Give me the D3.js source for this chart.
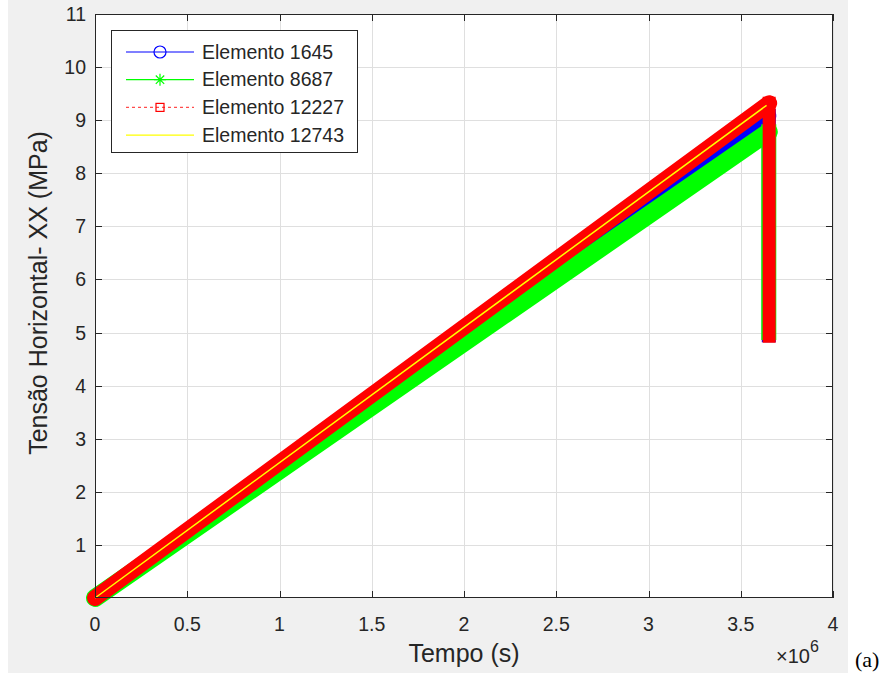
<!DOCTYPE html>
<html>
<head>
<meta charset="utf-8">
<script src="https://cdn.jsdelivr.net/npm/d3@7"></script>
<style>
  html, body { margin: 0; padding: 0; background: #ffffff; }
  svg { display: block; }
</style>
</head>
<body>
<svg id="chart" width="893" height="675"></svg>
<script>
// ---------------- data ----------------
const seriesNames = ["Elemento 1645", "Elemento 8687", "Elemento 12227", "Elemento 12743"];
// time (s) and horizontal stress (MPa): ramp start, peak, bottom of the drop
const time1645  = [0, 3.652e6, 3.652e6];
const tens1645  = [0, 9.08, 4.95];
const time8687  = [0, 3.652e6, 3.652e6];
const tens8687  = [0, 8.78, 5.00];
const time12227 = [0, 3.654e6, 3.654e6];
const tens12227 = [0, 9.32, 4.93];
const time12743 = [0, 3.640e6];
const tens12743 = [0, 9.28];

const xTicks = [0, 0.5e6, 1e6, 1.5e6, 2e6, 2.5e6, 3e6, 3.5e6, 4e6];
const xTickLabels = ["0", "0.5", "1", "1.5", "2", "2.5", "3", "3.5", "4"];
const yTicks = [1, 2, 3, 4, 5, 6, 7, 8, 9, 10, 11];
const yTickLabels = ["1", "2", "3", "4", "5", "6", "7", "8", "9", "10", "11"];

// ---------------- layout ----------------
const svg = d3.select("#chart");
const L = 95, R = 833, T = 14, B = 598;
const x = d3.scaleLinear().domain([0, 4e6]).range([L, R]);
const y = d3.scaleLinear().domain([0, 11]).range([B, T]);
const axisColor = "#262626";
const font = "'Liberation Sans', Arial, Helvetica, sans-serif";

// figure background
svg.append("rect").attr("x", 8).attr("y", 0).attr("width", 840).attr("height", 673).attr("fill", "#f0f0f0");
// axes background
svg.append("rect").attr("x", L).attr("y", T).attr("width", R - L).attr("height", B - T).attr("fill", "#ffffff");

// grid
const grid = svg.append("g").attr("stroke", "#dfdfdf").attr("stroke-width", 1);
xTicks.forEach(v => grid.append("line").attr("x1", Math.round(x(v)) + 0.5).attr("x2", Math.round(x(v)) + 0.5).attr("y1", T).attr("y2", B));
yTicks.forEach(v => grid.append("line").attr("x1", L).attr("x2", R).attr("y1", Math.round(y(v)) + 0.5).attr("y2", Math.round(y(v)) + 0.5));

// ---------------- data marks ----------------
const mk = (t, v) => t.map((d, i) => ({ t: d, v: v[i] }));
const line = d3.line().x(d => x(d.t)).y(d => y(d.v));
const plot = svg.append("g");

function band(pts, color, wRamp, wDrop) {
  const ramp = pts.slice(0, 2), drop = pts.slice(1);
  plot.append("path").attr("d", line(ramp)).attr("fill", "none").attr("stroke", color)
    .attr("stroke-width", wRamp).attr("stroke-linecap", "round");
  if (drop.length > 1) {
    plot.append("path").attr("d", line(drop)).attr("fill", "none").attr("stroke", color)
      .attr("stroke-width", wDrop).attr("stroke-linecap", "square");
  }
}
band(mk(time1645, tens1645), "#0000ff", 15, 14);
band(mk(time8687, tens8687), "#00ff00", 18, 15);
band(mk(time12227, tens12227), "#ff0000", 16, 13);
plot.append("path").attr("d", line(mk(time12743, tens12743))).attr("fill", "none")
  .attr("stroke", "#ffff00").attr("stroke-width", 1.5);

// ---------------- axes box & ticks ----------------
const ax = svg.append("g").attr("stroke", axisColor).attr("stroke-width", 1).attr("fill", "none");
ax.append("rect").attr("x", L + 0.5).attr("y", T + 0.5).attr("width", R - L - 1).attr("height", B - T - 1);
const tl = 7;
xTicks.forEach(v => {
  const px = Math.round(x(v)) + 0.5;
  ax.append("line").attr("x1", px).attr("x2", px).attr("y1", B).attr("y2", B - tl);
  ax.append("line").attr("x1", px).attr("x2", px).attr("y1", T).attr("y2", T + tl);
});
yTicks.forEach(v => {
  const py = Math.round(y(v)) + 0.5;
  ax.append("line").attr("x1", L).attr("x2", L + tl).attr("y1", py).attr("y2", py);
  ax.append("line").attr("x1", R).attr("x2", R - tl).attr("y1", py).attr("y2", py);
});

// tick labels
const lab = svg.append("g").attr("fill", axisColor).attr("font-family", font).attr("font-size", 19.5);
xTicks.forEach((v, i) => lab.append("text").attr("x", x(v)).attr("y", 631).attr("text-anchor", "middle").text(xTickLabels[i]));
yTicks.forEach((v, i) => lab.append("text").attr("x", 86).attr("y", y(v) + 7).attr("text-anchor", "end").text(yTickLabels[i]));

// exponent
const ex = svg.append("text").attr("x", 776).attr("y", 663).attr("fill", axisColor).attr("font-family", font).attr("font-size", 20);
ex.append("tspan").text("×10");
ex.append("tspan").attr("dy", -11).attr("font-size", 16).text("6");

// axis labels
svg.append("text").attr("x", (L + R) / 2).attr("y", 662).attr("text-anchor", "middle")
  .attr("fill", axisColor).attr("font-family", font).attr("font-size", 25).text("Tempo (s)");
svg.append("text").attr("transform", `translate(47,${(T + B) / 2 - 13}) rotate(-90)`).attr("text-anchor", "middle")
  .attr("fill", axisColor).attr("font-family", font).attr("font-size", 25).text("Tensão Horizontal- XX (MPa)");

// caption
svg.append("text").attr("x", 855).attr("y", 667).attr("fill", "#000").attr("font-family", "'Liberation Serif', 'Times New Roman', serif")
  .attr("font-size", 22).text("(a)");

// ---------------- legend ----------------
const lg = svg.append("g");
lg.append("rect").attr("x", 111.5).attr("y", 30.5).attr("width", 246).attr("height", 122)
  .attr("fill", "#ffffff").attr("stroke", axisColor).attr("stroke-width", 1);
const legColors = ["#0000ff", "#00ff00", "#ff0000", "#ffff00"];
seriesNames.forEach((name, i) => {
  const cy = 52 + i * 27.7;
  const g = lg.append("g");
  const ln = g.append("line").attr("x1", 126).attr("x2", 194).attr("y1", cy).attr("y2", cy)
    .attr("stroke", legColors[i]).attr("stroke-width", 1.2);
  if (i === 2) ln.attr("stroke-dasharray", "3,3").attr("stroke-opacity", 0.7);
  if (i === 0) g.append("circle").attr("cx", 160).attr("cy", cy).attr("r", 6).attr("fill", "none").attr("stroke", legColors[i]).attr("stroke-width", 1.2);
  if (i === 1) {
    const s = 6;
    g.append("path").attr("d", `M${160 - s},${cy}H${160 + s}M160,${cy - s}V${cy + s}M${160 - s * 0.7},${cy - s * 0.7}L${160 + s * 0.7},${cy + s * 0.7}M${160 - s * 0.7},${cy + s * 0.7}L${160 + s * 0.7},${cy - s * 0.7}`)
      .attr("stroke", legColors[i]).attr("stroke-width", 1.2).attr("fill", "none");
  }
  if (i === 2) g.append("rect").attr("x", 156).attr("y", cy - 4).attr("width", 8).attr("height", 8).attr("fill", "none").attr("stroke", legColors[i]).attr("stroke-width", 1.2);
  g.append("text").attr("x", 202).attr("y", cy + 6.5).attr("fill", axisColor).attr("font-family", font).attr("font-size", 19.5).text(name);
});
</script>
</body>
</html>
